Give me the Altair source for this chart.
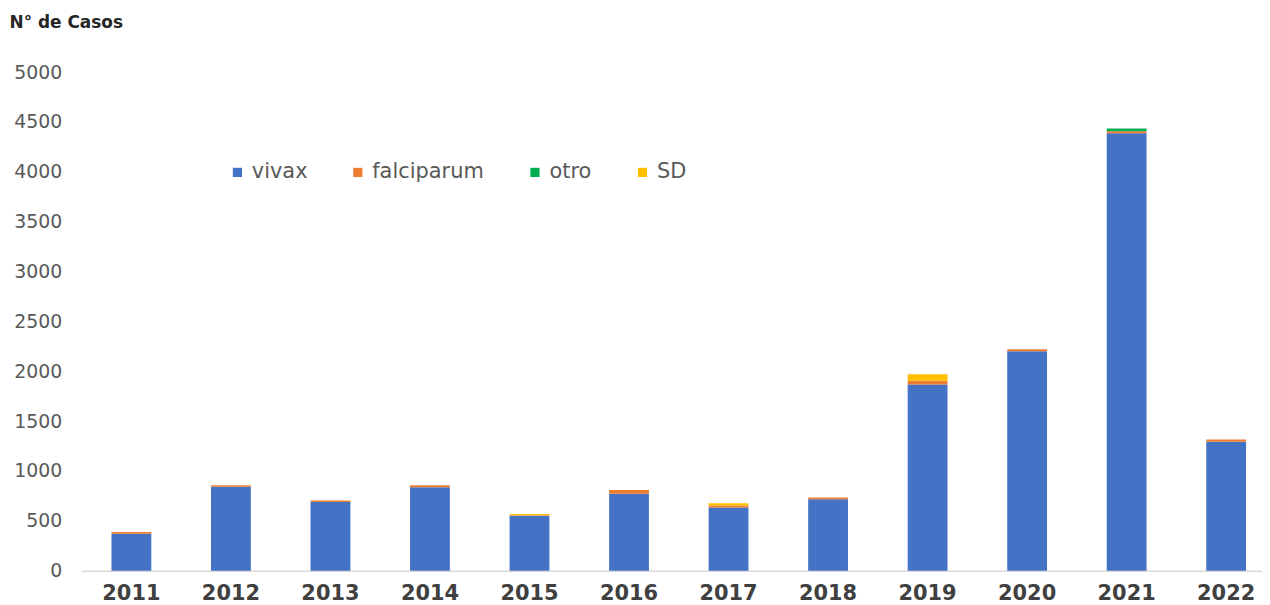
import altair as alt
import pandas as pd

years = ["2011", "2012", "2013", "2014", "2015", "2016", "2017", "2018", "2019", "2020", "2021", "2022"]
vivax = [371, 843, 690, 837, 551, 773, 633, 717, 1867, 2202, 4388, 1294]
falciparum = [17, 15, 15, 20, 5, 37, 20, 18, 37, 20, 20, 23]
otro = [0, 0, 0, 0, 0, 0, 0, 0, 0, 0, 26, 0]
sd = [0, 0, 0, 0, 12, 0, 24, 0, 66, 0, 0, 0]

species = ["vivax", "falciparum", "otro", "SD"]
colors = ["#4472C4", "#ED7D31", "#00B050", "#FFC000"]

rows = []
for i, y in enumerate(years):
    for k, (name, vals) in enumerate(zip(species, [vivax, falciparum, otro, sd])):
        rows.append({"year": y, "tipo": name, "casos": vals[i], "idx": k})
df = pd.DataFrame(rows)

chart = alt.Chart(df).mark_bar().encode(
    x=alt.X("year:N", sort=years,
            scale=alt.Scale(paddingInner=0.6, paddingOuter=0.23, align=0.652),
            axis=alt.Axis(title=None, labelAngle=0, labelFont="DejaVu Sans", labelFontSize=21,
                          labelFontWeight="bold", labelColor="#404040", labelPadding=12,
                          ticks=False, domainColor="#D9D9D9", domainWidth=1.5)),
    y=alt.Y("casos:Q", stack="zero",
            scale=alt.Scale(domain=[0, 5000]),
            axis=alt.Axis(values=list(range(0, 5001, 500)), format="d", grid=False, ticks=False,
                          domain=False, labelFont="DejaVu Sans", labelFontSize=19,
                          labelColor="#595959", labelPadding=20,
                          title="N° de Casos", titleAngle=0, titleX=-73, titleY=-50,
                          titleAlign="left", titleBaseline="middle", titleFont="DejaVu Sans",
                          titleFontSize=17, titleFontWeight="bold", titleColor="#262626")),
    color=alt.Color("tipo:N", sort=species,
                    scale=alt.Scale(domain=species, range=colors),
                    legend=alt.Legend(title=None, orient="none", direction="horizontal",
                                      legendX=146, legendY=90, symbolType="square",
                                      symbolSize=85, symbolStrokeWidth=0, labelFont="DejaVu Sans",
                                      labelFontSize=21, labelColor="#595959", labelOffset=4,
                                      columnPadding=40)),
    order=alt.Order("idx:Q", sort="ascending"),
).properties(
    width=1186, height=501,
    autosize=alt.AutoSizeParams(type="none"),
    padding={"left": 74, "top": 63, "right": 0, "bottom": 33},
).configure_view(stroke=None)

chart.save("out.html", embed_options={"renderer": "svg", "actions": False})
